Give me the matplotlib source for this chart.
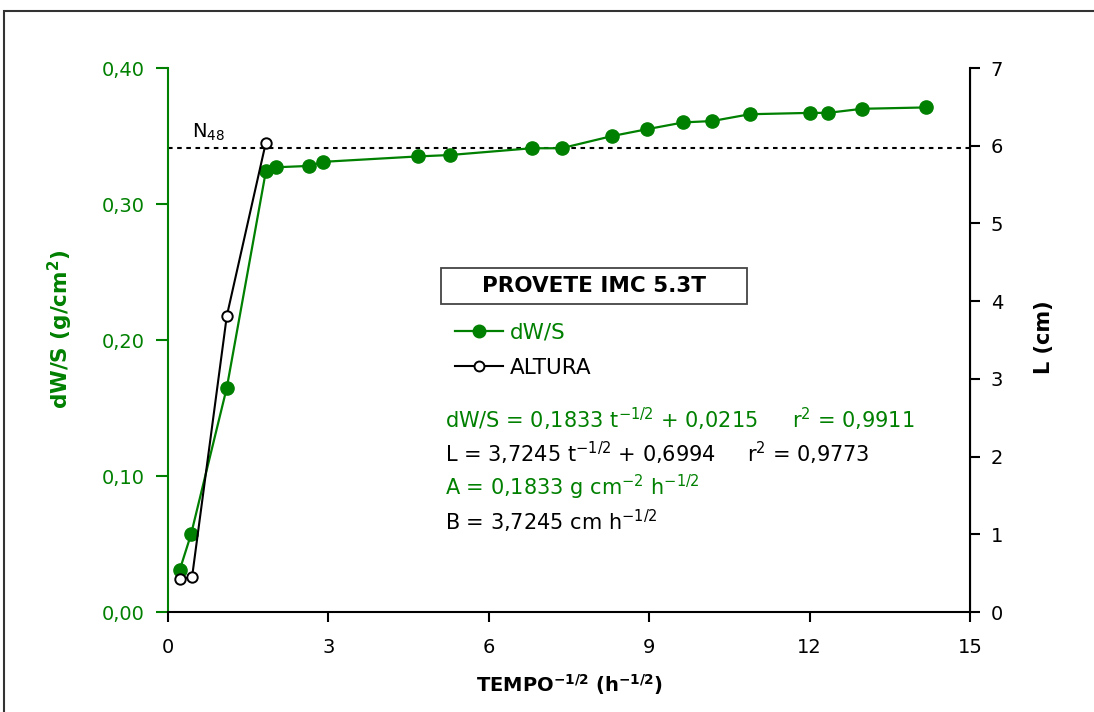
import matplotlib
matplotlib.use("Agg")
import matplotlib.pyplot as plt
from matplotlib.patches import Rectangle

plt.rcParams["font.family"] = ["DejaVu Sans"]
plt.rcParams["mathtext.fontset"] = "dejavusans"

GREEN = "#008000"

# dW/S (g/cm2) against t^-1/2 (h^-1/2)
t_dws = [0.22, 0.43, 1.10, 1.83, 2.02, 2.64, 2.90, 4.68, 5.27, 6.80, 7.36,
         8.31, 8.96, 9.64, 10.18, 10.88, 12.01, 12.34, 12.98, 14.17]
dws = [0.031, 0.057, 0.165, 0.324, 0.327, 0.328, 0.331, 0.335, 0.336, 0.341,
       0.341, 0.350, 0.355, 0.360, 0.361, 0.366, 0.367, 0.367, 0.370, 0.371]

# capillary rise height L (cm)
t_alt = [0.22, 0.45, 1.10, 1.83]
altura = [0.42, 0.45, 3.81, 6.04]

n48 = 0.341

x_ticks = [0, 3, 6, 9, 12, 15]
y_left_ticks = [0.0, 0.1, 0.2, 0.3, 0.4]
y_left_labels = ["0,00", "0,10", "0,20", "0,30", "0,40"]
y_right_ticks = [0, 1, 2, 3, 4, 5, 6, 7]

W, H = 1094, 712
fig = plt.figure(figsize=(W / 100, H / 100), dpi=100)
ax = fig.add_axes([168 / W, 1 - 612 / H, (970 - 168) / W, (612 - 68) / H])
ax2 = ax.twinx()

ax.set_xlim(0, 15)
ax.set_ylim(0, 0.40)
ax2.set_ylim(0, 7)

# N48 reference level
ax.axhline(n48, color="black", lw=1.5, ls=(0, (2.2, 2.2)), zorder=1)
ax.text(0.45, n48 + 0.004, r"N$_{48}$", fontsize=14, va="bottom", ha="left")

l1, = ax.plot(t_dws, dws, color=GREEN, lw=1.6, marker="o", ms=9.5,
              mfc=GREEN, mec=GREEN, zorder=3, label="dW/S")
l2, = ax2.plot(t_alt, altura, color="black", lw=1.5, marker="o", ms=7.5,
               mfc="white", mec="black", mew=1.4, zorder=4, label="ALTURA")

ax.set_xticks(x_ticks)
ax.set_xticklabels([str(v) for v in x_ticks])
ax.set_yticks(y_left_ticks)
ax.set_yticklabels(y_left_labels)
ax2.set_yticks(y_right_ticks)

for a in (ax, ax2):
    a.spines["top"].set_visible(False)
ax.spines["left"].set_color(GREEN)
ax.spines["left"].set_linewidth(1.5)
ax.spines["bottom"].set_linewidth(1.5)
ax2.spines["left"].set_visible(False)
ax2.spines["bottom"].set_visible(False)
ax2.spines["right"].set_linewidth(1.5)

ax.tick_params(axis="x", direction="out", length=7, width=1.5, labelsize=14, pad=12)
ax.tick_params(axis="y", direction="out", length=9, width=1.5, labelsize=14,
               colors=GREEN, pad=8)
ax2.tick_params(axis="y", direction="out", length=7, width=1.5, labelsize=14, pad=8)

ax.set_xlabel(r"TEMPO$^{\mathbf{-1/2}}$ (h$^{\mathbf{-1/2}}$)", fontsize=14,
              fontweight="bold")
ax.xaxis.set_label_coords(0.5, -0.11)
ax.set_ylabel(r"dW/S (g/cm$^{\mathbf{2}}$)", fontsize=15.5, fontweight="bold",
              color=GREEN)
ax.yaxis.set_label_coords(-0.116, 0.52)
ax2.set_ylabel("L (cm)", fontsize=15, fontweight="bold", rotation=90)
ax2.yaxis.set_label_coords(1.08, 0.505)

# title box
fig.patches.append(Rectangle((441 / W, 1 - 304 / H), (747 - 441) / W, 36 / H,
                             fill=True, fc="white", ec="#444444", lw=1.3,
                             transform=fig.transFigure, zorder=5))
fig.text(594 / W, 1 - 286 / H, "PROVETE IMC 5.3T", fontsize=15.5, fontweight="bold",
         ha="center", va="center", zorder=6)

leg = ax.legend(handles=[l1, l2], labels=["dW/S", "ALTURA"],
                loc="upper left", bbox_to_anchor=(455 / W, 1 - 323 / H),
                bbox_transform=fig.transFigure, frameon=False, fontsize=15.5,
                handlelength=2.23, handletextpad=0.33, labelspacing=0.68,
                borderaxespad=0, borderpad=0, labelcolor=[GREEN, "black"],
                markerscale=0.95)

def ft(x, y, s, color="black"):
    fig.text(x / W, 1 - y / H, s, fontsize=15, color=color, ha="left", va="center")

ft(445, 419, r"dW/S = 0,1833 t$^{\mathregular{-1/2}}$ + 0,0215", GREEN)
ft(792, 419, r"r$^{\mathregular{2}}$ = 0,9911", GREEN)
ft(445, 453, r"L = 3,7245 t$^{\mathregular{-1/2}}$ + 0,6994")
ft(747, 453, r"r$^{\mathregular{2}}$ = 0,9773")
ft(445, 487, r"A = 0,1833 g cm$^{\mathregular{-2}}$ h$^{\mathregular{-1/2}}$", GREEN)
ft(445, 521, r"B = 3,7245 cm h$^{\mathregular{-1/2}}$")

# outer frame
fig.patches.append(Rectangle((4 / W, -0.1), 1.2, 1.1 - 11 / H, fill=False,
                             ec="#333333", lw=1.5, transform=fig.transFigure))

fig.savefig("out.png", dpi=100)
